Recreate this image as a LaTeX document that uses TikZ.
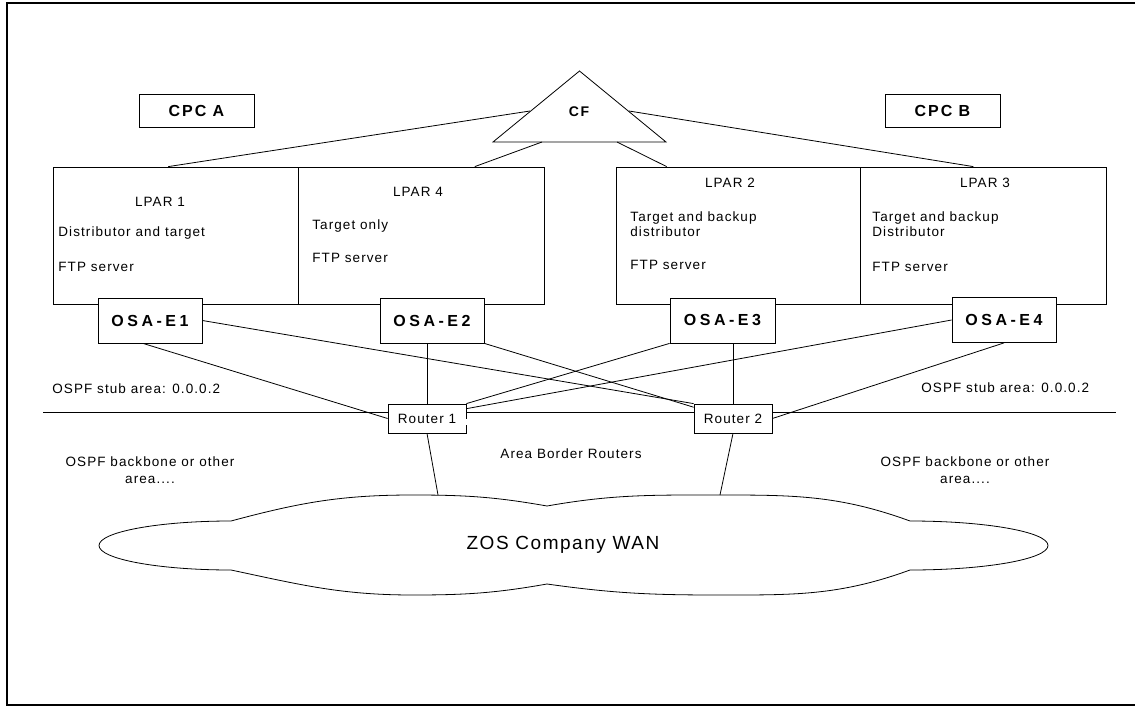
\documentclass[tikz,border=0pt]{standalone}
\usepackage{fontspec}
\setmainfont{Liberation Sans}
\newfontfamily\lbfont[LetterSpace=8]{Liberation Sans}
\newfontfamily\cpcfont[LetterSpace=12]{Liberation Sans}
\newfontfamily\osafont[LetterSpace=22]{Liberation Sans}
\usetikzlibrary{calc}

\begin{document}
\begin{tikzpicture}[
  x=1pt, y=1pt, line width=0.8pt,
  font=\lbfont\fontsize{13.5}{15}\selectfont,
  txt/.style={inner sep=0pt, align=left},
  lpar/.style={draw, minimum height=137pt, inner sep=0pt},
  osa/.style={draw, fill=white, minimum width=104pt, minimum height=45pt, inner sep=0pt,
              font=\osafont\bfseries\fontsize{16}{18}\selectfont},
  cpc/.style={draw, minimum width=115pt, minimum height=33pt, inner sep=0pt,
              font=\cpcfont\bfseries\fontsize{16}{18}\selectfont},
  router/.style={draw, fill=white, minimum width=78pt, minimum height=29pt, inner sep=0pt}
]
  \useasboundingbox (0,0) rectangle (1135,-706);
  \clip (0,0) rectangle (1135,-706);
  \draw[line width=1.2pt] (7,-3) rectangle (1160,-705);

  \node[cpc] (cpca) at (196.5,-110.5) {CPC A};
  \node[cpc] (cpcb) at (942.5,-110.5) {CPC B};

  \coordinate (cftop) at (579.5,-71);
  \coordinate (cfbl) at (493,-142);
  \coordinate (cfbr) at (666,-142);
  \draw (cftop) -- (cfbl) -- (cfbr) -- cycle;
  \node[inner sep=0pt, font=\cpcfont\bfseries\fontsize{14}{16}\selectfont] (cf) at (579,-111.5) {CF};
  \coordinate (cfl) at (530,-111);
  \coordinate (cfr) at (629,-111);
  \coordinate (cfa) at (542,-142);
  \coordinate (cfb) at (617,-142);

  \node[lpar, minimum width=245pt] (l1) at (175.5,-235.5) {};
  \node[lpar, minimum width=246pt] (l4) at (421,-235.5) {};
  \node[lpar, minimum width=244pt] (l2) at (738,-235.5) {};
  \node[lpar, minimum width=246pt] (l3) at (983,-235.5) {};

  \draw (cfl) -- (l1.96);
  \draw (cfa) -- (l4.52);
  \draw (cfb) -- (l2.136);
  \draw (cfr) -- (l3.98);

  \node[txt] (t1) at (160,-202) {LPAR 1};
  \node[txt, anchor=west] (d1) at (58,-233) {Distributor and target};
  \node[txt, anchor=west] (f1) at (58,-267) {FTP server};
  \node[txt] (t4) at (418,-192) {LPAR 4};
  \node[txt, anchor=west] (d4) at (312,-226) {Target only};
  \node[txt, anchor=west] (f4) at (312,-258) {FTP server};
  \node[txt] (t2) at (730,-183) {LPAR 2};
  \node[txt, anchor=west] (d2) at (630,-224.5) {Target and backup\\distributor};
  \node[txt, anchor=west] (f2) at (630,-265) {FTP server};
  \node[txt] (t3) at (985,-183) {LPAR 3};
  \node[txt, anchor=west] (d3) at (872,-224.5) {Target and backup\\Distributor};
  \node[txt, anchor=west] (f3) at (872,-267) {FTP server};

  \node[osa] (e1) at (150,-320.5) {OSA-E1};
  \node[osa] (e2) at (432,-320.5) {OSA-E2};
  \node[osa, minimum width=105pt] (e3) at (722.5,-320.5) {OSA-E3};
  \node[osa] (e4) at (1004,-320) {OSA-E4};

  \node[txt, anchor=west] (sa1) at (52,-389) {OSPF stub area: 0.0.0.2};
  \node[txt, anchor=west] (sa2) at (921,-388) {OSPF stub area: 0.0.0.2};
  \draw (43,-412) -- (1116,-412);

  \node[router] (r1) at (427,-418.5) {Router 1};
  \node[router] (r2) at (733,-418.5) {Router 2};
  \draw[draw=black!65, double=white, double distance=5.2pt]
    ($(r1.east)+(0,-3.5)$) -- ($(r2.west)+(0,-3.5)$);

  \draw (e1.-107) -- (r1.west);
  \draw (e1.east) -- (r2.north west);
  \draw (e2.south -| r1.north) -- (r1.north);
  \draw (e2.south east) -- (r2.164);
  \draw (e3.south west) -- (r1.north east);
  \draw (e3.south -| r2.north) -- (r2.north);
  \draw (e4.west) -- (r1.14);
  \draw (e4.south) -- (r2.east);

  \node[txt] (abr) at (571,-454) {Area Border Routers};
  \node[txt, align=center] (bb1) at (150,-470) {OSPF backbone or other\\[2pt]area....};
  \node[txt, align=center] (bb2) at (965,-470) {OSPF backbone or other\\[2pt]area....};

  \coordinate (wan1) at (438,-495);
  \coordinate (wan2) at (720,-495);
  \draw (r1.south) -- (wan1);
  \draw (r2.south) -- (wan2);

  \draw (231,-521) arc[start angle=90, end angle=270, x radius=132, y radius=24.5]
    to[out=-12, in=180] (413,-595) to[out=0, in=190] (547,-584)
    to[out=-8, in=180] (718,-595) to[out=0, in=200] (910,-570)
    arc[start angle=-90, end angle=90, x radius=138, y radius=24.5]
    to[out=160, in=0] (718,-495) to[out=180, in=10] (547,-506)
    to[out=170, in=0] (413,-495) to[out=180, in=15] (231,-521) -- cycle;
  \node[txt, font=\lbfont\fontsize{19}{22}\selectfont] (wan) at (563,-545) {ZOS Company WAN};
\end{tikzpicture}
\end{document}
